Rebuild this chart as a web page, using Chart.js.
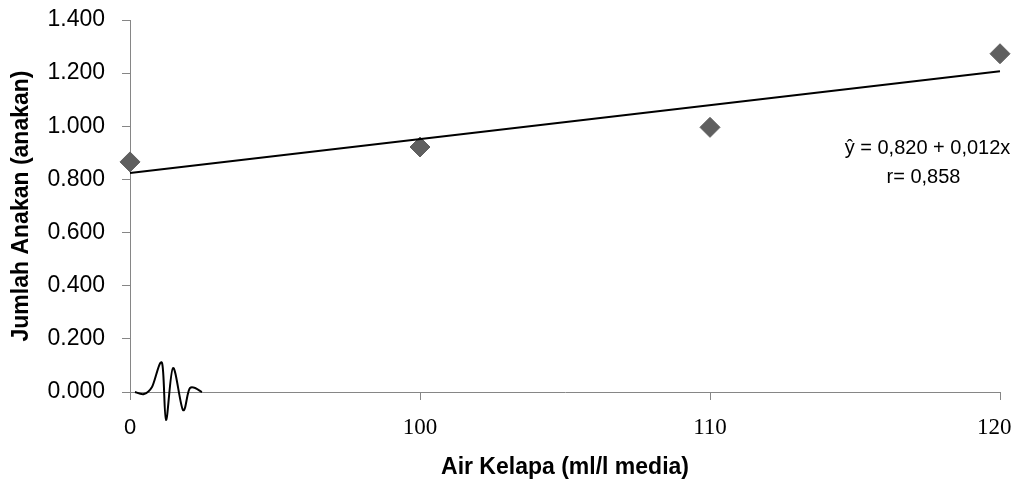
<!DOCTYPE html>
<html lang="id">
<head>
  <meta charset="UTF-8" />
  <title>Jumlah Anakan vs Air Kelapa</title>
  <script src="https://cdn.jsdelivr.net/npm/chart.js"></script>
  <style>
    html, body { margin: 0; padding: 0; background: #fff; }
    #wrap { width: 1014px; height: 484px; }
  </style>
</head>
<body>
  <div id="wrap"><canvas id="chart"></canvas></div>

  <script>
    // values
    const airKelapa = ['0', '100', '110', '120'];
    const jumlahAnakan = [0.866, 0.922, 0.996, 1.273];
    const garisRegresi = [0.824, null, null, 1.207];
    const yMin = 0, yMax = 1.4, yStep = 0.2;
    const persamaan = ['ŷ = 0,820 + 0,012x', 'r= 0,858'];

    const axisGrey = '#868686';

    // equation text + the little wave near the origin
    const extras = {
      id: 'extras',
      afterDraw(chart) {
        const { ctx, chartArea } = chart;
        const x = chart.scales.x;
        ctx.save();
        ctx.fillStyle = '#000';
        ctx.font = '20px "Liberation Sans", Arial, sans-serif';
        ctx.textAlign = 'center';
        ctx.textBaseline = 'middle';
        const cx = x.getPixelForValue(2.75);
        ctx.fillText(persamaan[0], cx, chartArea.top + 128);
        ctx.fillText(persamaan[1], cx - 4, chartArea.top + 157);

        // wave
        const ox = chartArea.left, oy = chartArea.bottom;
        const pts = [[5,0],[14,2],[22,-5],[32,-29],[36,28],[43,-24],[53,18],[60,-4],[72,0]];
        ctx.strokeStyle = '#000';
        ctx.lineWidth = 2;
        ctx.beginPath();
        ctx.moveTo(ox + pts[0][0], oy + pts[0][1]);
        for (let i = 0; i < pts.length - 1; i++) {
          const p0 = pts[Math.max(i - 1, 0)], p1 = pts[i], p2 = pts[i + 1], p3 = pts[Math.min(i + 2, pts.length - 1)];
          ctx.bezierCurveTo(
            ox + p1[0] + (p2[0] - p0[0]) / 6, oy + p1[1] + (p2[1] - p0[1]) / 6,
            ox + p2[0] - (p3[0] - p1[0]) / 6, oy + p2[1] - (p3[1] - p1[1]) / 6,
            ox + p2[0], oy + p2[1]);
        }
        ctx.stroke();
        ctx.restore();
      }
    };

    new Chart(document.getElementById('chart'), {
      type: 'line',
      data: {
        labels: airKelapa,
        datasets: [
          {
            label: 'Regresi',
            data: garisRegresi,
            spanGaps: true,
            borderColor: '#000',
            borderWidth: 2,
            pointRadius: 0,
            fill: false,
            clip: false
          },
          {
            label: 'Jumlah Anakan',
            data: jumlahAnakan,
            showLine: false,
            pointStyle: 'rectRot',
            pointRadius: 10,
            pointBackgroundColor: '#5f5f5f',
            pointBorderColor: '#5f5f5f',
            pointBorderWidth: 1,
            clip: false
          }
        ]
      },
      options: {
        responsive: true,
        maintainAspectRatio: false,
        animation: false,
        layout: { padding: { left: 0, right: 14, top: 20, bottom: 0 } },
        plugins: { legend: { display: false }, tooltip: { enabled: false } },
        scales: {
          x: {
            type: 'category',
            offset: false,
            afterFit(s) { s.height = 92; s.paddingLeft = 0; s.paddingRight = 0; },
            grid: { drawOnChartArea: false, color: axisGrey, tickLength: 8 },
            border: { color: axisGrey },
            ticks: {
              color: '#000',
              padding: 16,
              maxRotation: 0,
              // last label sits a little left of its tick so it stays inside the frame
              callback: (v, i, arr) => i === arr.length - 1 ? airKelapa[i] + '\u2002' : airKelapa[i],
              font: (c) => c.index === 0
                ? { family: '"Liberation Sans", Arial, sans-serif', size: 22, lineHeight: '24px' }
                : { family: '"Liberation Serif", "Times New Roman", serif', size: 23, lineHeight: '24px' }
            },
            title: {
              display: true,
              text: 'Air Kelapa (ml/l media)',
              color: '#000',
              font: { family: '"Liberation Sans", Arial, sans-serif', size: 23, weight: 'bold' },
              padding: { top: 3, bottom: 3 }
            }
          },
          y: {
            min: yMin,
            max: yMax,
            afterFit(s) { s.width = 130; s.paddingTop = 0; s.paddingBottom = 0; },
            grid: { drawOnChartArea: false, color: axisGrey, tickLength: 8 },
            border: { color: axisGrey },
            ticks: {
              stepSize: yStep,
              color: '#000',
              padding: 17,
              font: { family: '"Liberation Sans", Arial, sans-serif', size: 23 },
              callback: (v) => Number(v).toFixed(3)
            },
            title: {
              display: true,
              text: 'Jumlah Anakan (anakan)',
              color: '#000',
              font: { family: '"Liberation Sans", Arial, sans-serif', size: 23, weight: 'bold' },
              padding: { top: 8, bottom: 8 }
            }
          }
        }
      },
      plugins: [extras]
    });
  </script>
</body>
</html>
